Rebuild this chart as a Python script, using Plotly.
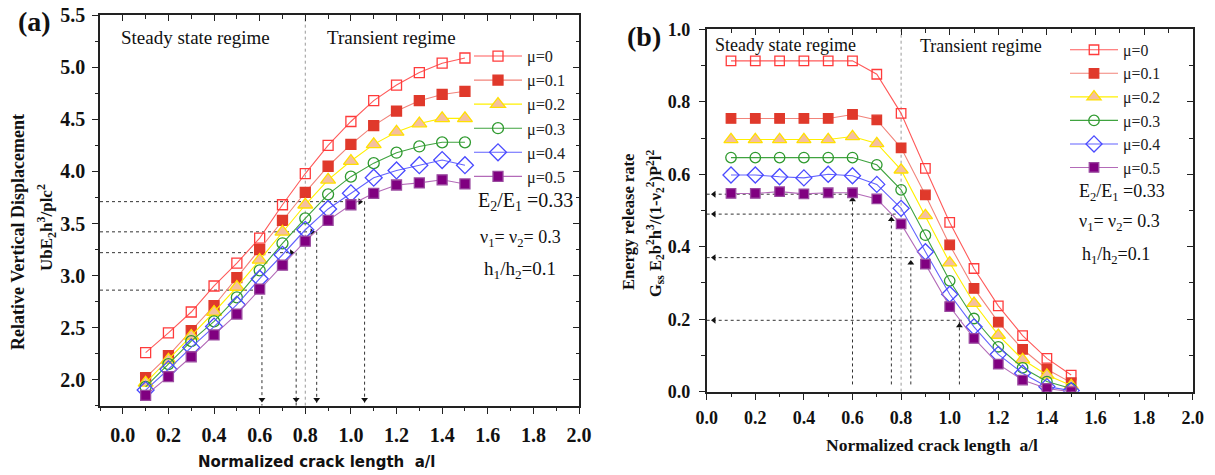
import plotly.graph_objects as go

# ---------------- data ----------------
crack_len = [0.1, 0.2, 0.3, 0.4, 0.5, 0.6, 0.7, 0.8, 0.9, 1.0, 1.1, 1.2, 1.3, 1.4, 1.5]
mu_labels = ["μ=0", "μ=0.1", "μ=0.2", "μ=0.3", "μ=0.4", "μ=0.5"]

# (a) relative vertical displacement
disp_mu0 = [2.26, 2.45, 2.65, 2.90, 3.12, 3.36, 3.68, 3.98, 4.25, 4.48, 4.68, 4.83, 4.95, 5.04, 5.09]
disp_mu1 = [2.02, 2.23, 2.47, 2.71, 2.98, 3.25, 3.53, 3.80, 4.05, 4.26, 4.44, 4.58, 4.68, 4.74, 4.77]
disp_mu2 = [1.97, 2.19, 2.42, 2.65, 2.89, 3.15, 3.42, 3.68, 3.92, 4.10, 4.26, 4.38, 4.46, 4.51, 4.51]
disp_mu3 = [1.93, 2.15, 2.37, 2.56, 2.79, 3.05, 3.31, 3.55, 3.78, 3.95, 4.08, 4.18, 4.24, 4.28, 4.28]
disp_mu4 = [1.90, 2.10, 2.31, 2.51, 2.72, 2.97, 3.20, 3.44, 3.64, 3.79, 3.94, 4.01, 4.06, 4.11, 4.06]
disp_mu5 = [1.85, 2.03, 2.22, 2.43, 2.63, 2.87, 3.10, 3.33, 3.53, 3.68, 3.79, 3.87, 3.89, 3.92, 3.88]

# (b) energy release rate
err_mu0 = [0.913, 0.913, 0.913, 0.913, 0.913, 0.913, 0.876, 0.768, 0.616, 0.467, 0.340, 0.237, 0.155, 0.092, 0.046]
err_mu1 = [0.754, 0.754, 0.754, 0.754, 0.754, 0.765, 0.750, 0.673, 0.543, 0.405, 0.285, 0.192, 0.117, 0.062, 0.025]
err_mu2 = [0.696, 0.696, 0.696, 0.696, 0.696, 0.704, 0.685, 0.612, 0.486, 0.356, 0.244, 0.156, 0.089, 0.046, 0.017]
err_mu3 = [0.646, 0.646, 0.646, 0.646, 0.646, 0.646, 0.626, 0.557, 0.432, 0.306, 0.202, 0.124, 0.066, 0.028, 0.009]
err_mu4 = [0.598, 0.598, 0.593, 0.590, 0.600, 0.596, 0.572, 0.506, 0.386, 0.269, 0.179, 0.103, 0.051, 0.014, 0.003]
err_mu5 = [0.547, 0.547, 0.552, 0.546, 0.549, 0.549, 0.532, 0.463, 0.352, 0.235, 0.147, 0.076, 0.032, 0.009, 0.000]

# guide (dashed) lines
guide_a_x = [0.61, 0.76, 0.85, 1.06]
guide_a_y = [2.86, 3.22, 3.42, 3.71]
guide_b_x = [0.60, 0.76, 0.84, 1.04]
guide_b_y = [0.545, 0.49, 0.37, 0.197]
regime_boundary = 0.8

# axis ranges
xa_range = [-0.1, 2.0]
ya_range = [1.75, 5.5]
xb_range = [0.0, 2.0]
yb_range = [0.0, 1.0]

# ---------------- styles ----------------
SERIF = "Liberation Serif"
styles = [
    dict(line="#ff5a5a", symbol="square-open", color="#ff3b3b", fill=None, size=10),
    dict(line="#f2837a", symbol="square", color="#e0392b", fill="#e0392b", size=10),
    dict(line="#fff000", symbol="triangle-up", color="#ffe000", fill="#f5bf9f", size=13),
    dict(line="#3fa33f", symbol="circle-open", color="#2f9a2f", fill=None, size=11),
    dict(line="#6262ff", symbol="diamond-open", color="#4a4aff", fill=None, size=13),
    dict(line="#b36ab8", symbol="square", color="#9a4aa0", fill="#800080", size=10),
]

W, H = 1215, 475
def px(x):
    return x / W
def py(y):
    return 1 - y / H

fig = go.Figure()

def add_series(xv, yv, i, xa, ya, legend, scale=1.0):
    s = styles[i]
    marker = dict(symbol=s["symbol"], size=s["size"] * scale,
                  color=s["fill"] if s["fill"] else s["color"],
                  line=dict(color=s["color"], width=1.3))
    fig.add_trace(go.Scatter(x=xv, y=yv, mode="lines+markers", name=mu_labels[i],
                             line=dict(color=s["line"], width=1.1), marker=marker,
                             xaxis=xa, yaxis=ya, legend=legend))

disp_all = [disp_mu0, disp_mu1, disp_mu2, disp_mu3, disp_mu4, disp_mu5]
err_all = [err_mu0, err_mu1, err_mu2, err_mu3, err_mu4, err_mu5]

GUIDE = dict(color="#333333", width=1, dash="3px,3px")
BOUND = dict(color="#9a9a9a", width=1, dash="dot")

# ---- (a) guides ----
gx, gy = [], []
for x, y in zip(guide_a_x, guide_a_y):
    gx += [xa_range[0], x, None, x, x, None]
    gy += [y, y, None, y, ya_range[0], None]
fig.add_trace(go.Scatter(x=gx, y=gy, mode="lines", line=GUIDE, showlegend=False,
                         hoverinfo="skip", xaxis="x", yaxis="y"))
fig.add_trace(go.Scatter(x=[regime_boundary, regime_boundary], y=ya_range, mode="lines",
                         line=BOUND, showlegend=False, hoverinfo="skip", xaxis="x", yaxis="y"))
fig.add_trace(go.Scatter(x=[x - 0.02 for x in guide_a_x], y=guide_a_y, mode="markers",
                         marker=dict(symbol="triangle-right", size=6, color="#111"),
                         showlegend=False, hoverinfo="skip", xaxis="x", yaxis="y"))
fig.add_trace(go.Scatter(x=guide_a_x, y=[ya_range[0] + 0.06] * len(guide_a_x), mode="markers",
                         marker=dict(symbol="triangle-down", size=6, color="#111"),
                         showlegend=False, hoverinfo="skip", xaxis="x", yaxis="y"))

# ---- (b) guides ----
gx, gy = [], []
for x, y in zip(guide_b_x, guide_b_y):
    gx += [xb_range[0], x + 0.02, None, x, x, None]
    gy += [y, y, None, yb_range[0] + 0.02, y, None]
fig.add_trace(go.Scatter(x=gx, y=gy, mode="lines", line=GUIDE, showlegend=False,
                         hoverinfo="skip", xaxis="x2", yaxis="y2"))
fig.add_trace(go.Scatter(x=[regime_boundary, regime_boundary], y=yb_range, mode="lines",
                         line=BOUND, showlegend=False, hoverinfo="skip", xaxis="x2", yaxis="y2"))
fig.add_trace(go.Scatter(x=[xb_range[0] + 0.03] * len(guide_b_y), y=guide_b_y, mode="markers",
                         marker=dict(symbol="triangle-left", size=6, color="#111"),
                         showlegend=False, hoverinfo="skip", xaxis="x2", yaxis="y2"))
fig.add_trace(go.Scatter(x=guide_b_x, y=[y - 0.015 for y in guide_b_y], mode="markers",
                         marker=dict(symbol="triangle-up", size=6, color="#111"),
                         showlegend=False, hoverinfo="skip", xaxis="x2", yaxis="y2"))

for i in range(6):
    add_series(crack_len, disp_all[i], i, "x", "y", "legend")
for i in range(6):
    add_series(crack_len, err_all[i], i, "x2", "y2", "legend2", scale=0.95)

# empty traces for overlay (mirror-tick) axes
fig.add_trace(go.Scatter(x=[], y=[], xaxis="x3", yaxis="y3", showlegend=False))
fig.add_trace(go.Scatter(x=[], y=[], xaxis="x4", yaxis="y4", showlegend=False))

dom_xa = [px(100), px(579)]
dom_ya = [py(405.7), py(15.3)]
dom_xb = [px(706.7), px(1192.7)]
dom_yb = [py(391.7), py(29.3)]

def main_axis(rng, dom, anchor, dtick, mdtick, fsize, fmt, standoff):
    return dict(range=rng, domain=dom, anchor=anchor, dtick=dtick, tick0=0, automargin=False,
                ticks="outside", ticklen=6, tickwidth=1.3, tickcolor="#222",
                minor=dict(dtick=mdtick, ticks="outside", ticklen=3.5, tickwidth=1.2, tickcolor="#222"),
                showline=True, linecolor="#222", linewidth=1.6, mirror=True,
                showgrid=False, zeroline=False, tickformat=fmt, ticklabeloverflow="allow",
                tickfont=dict(family=SERIF, size=fsize, color="#111", weight="bold"),
                ticklabelstandoff=standoff)

def over_axis(rng, dom, anchor, overlaying, side, dtick, mdtick):
    return dict(range=rng, domain=dom, anchor=anchor, overlaying=overlaying, side=side,
                automargin=False,
                dtick=dtick, tick0=0, ticks="inside", ticklen=6, tickwidth=1.3, tickcolor="#222",
                minor=dict(dtick=mdtick, ticks="inside", ticklen=3.5, tickwidth=1.2, tickcolor="#222"),
                showticklabels=False, showline=False, showgrid=False, zeroline=False)

fig.update_layout(
    width=W, height=H, margin=dict(l=0, r=0, t=0, b=0, pad=0), autosize=False,
    plot_bgcolor="white", paper_bgcolor="white",
    xaxis=main_axis(xa_range, dom_xa, "y", 0.2, 0.1, 20, ".1f", 4),
    yaxis=main_axis(ya_range, dom_ya, "x", 0.5, 0.25, 20, ".1f", 3),
    xaxis2=main_axis(xb_range, dom_xb, "y2", 0.2, 0.1, 18, ".1f", 3),
    yaxis2=main_axis(yb_range, dom_yb, "x2", 0.2, 0.1, 18, ".1f", 5),
    xaxis3=over_axis(xa_range, dom_xa, "y", "x", "top", 0.2, 0.1),
    yaxis3=over_axis(ya_range, dom_ya, "x", "y", "right", 0.5, 0.25),
    xaxis4=over_axis(xb_range, dom_xb, "y2", "x2", "top", 0.2, 0.1),
    yaxis4=over_axis(yb_range, dom_yb, "x2", "y2", "right", 0.2, 0.1),
    legend=dict(x=px(469), y=py(39), xanchor="left", yanchor="top", bgcolor="rgba(0,0,0,0)",
                font=dict(family=SERIF, size=16.2, color="#222"), itemwidth=48,
                tracegroupgap=0),
    legend2=dict(x=px(1065), y=py(33), xanchor="left", yanchor="top", bgcolor="rgba(0,0,0,0)",
                 font=dict(family=SERIF, size=15.8, color="#222"), itemwidth=48,
                 tracegroupgap=0),
    showlegend=True,
)

def note(text, x, y, size, xanchor="left", bold=False, angle=0, family=SERIF):
    fig.add_annotation(text=text, x=px(x), y=py(y), xref="paper", yref="paper",
                       xanchor=xanchor, yanchor="middle", showarrow=False, textangle=angle,
                       font=dict(family=family, size=size, color="#111",
                                 weight="bold" if bold else "normal"))

# (a) texts
note("(a)", 34, 22, 28, "center", bold=True)
note("Steady state regime", 119, 38, 19)
note("Transient regime", 325, 38, 19)
note("E<sub>2</sub>/E<sub>1</sub> =0.33", 476, 202, 20)
note("ν<sub>1</sub>= ν<sub>2</sub>= 0.3", 478, 238, 18)
note("h<sub>1</sub>/h<sub>2</sub>=0.1", 482, 270, 19)
note("Relative Vertical Displacement", 18, 232, 18, "center", bold=True, angle=-90)
note("UbE<sub>2</sub>h<sup>3</sup>/plc<sup>2</sup>", 46, 228, 17, "center", bold=True, angle=-90)
note("Normalized crack length  a/l", 316, 462, 15, "center", bold=True, family="DejaVu Sans")

# (b) texts
note("(b)", 644, 37, 28, "center", bold=True)
note("Steady state regime", 713, 45, 18)
note("Transient regime", 918, 46, 18)
note("E<sub>2</sub>/E<sub>1</sub> =0.33", 1077, 192, 18)
note("ν<sub>1</sub>= ν<sub>2</sub>= 0.3", 1077, 222, 18)
note("h<sub>1</sub>/h<sub>2</sub>=0.1", 1080, 255, 18)
note("Energy release rate", 628, 222, 16.5, "center", bold=True, angle=-90)
note("G<sub>ss</sub> E<sub>2</sub>b<sup>2</sup>h<sup>3</sup>/(1-ν<sub>2</sub><sup>2</sup>)P<sup>2</sup>l<sup>2</sup>",
     655, 224, 16.5, "center", bold=True, angle=-90)
note("Normalized crack length  a/l", 932, 445, 17.5, "center", bold=True)

fig.write_html("out.html", config={"displayModeBar": False},
               post_script="document.body.style.margin='0';document.body.style.overflow='hidden';")
